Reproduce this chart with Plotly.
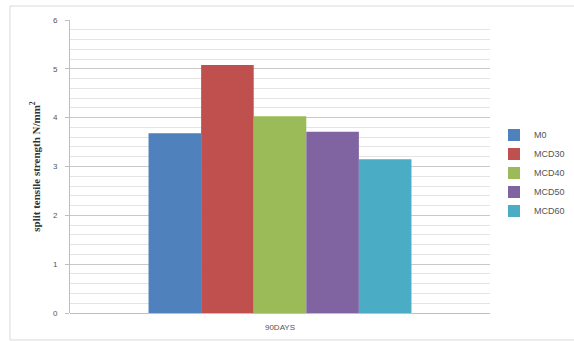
import plotly.graph_objects as go

categories = ["90DAYS"]
series_names = ["M0", "MCD30", "MCD40", "MCD50", "MCD60"]
series_values = [[3.68], [5.08], [4.03], [3.71], [3.15]]
colors = ["#4F81BD", "#C0504D", "#9BBB59", "#8064A2", "#4BACC6"]
y_ticks = [0, 1, 2, 3, 4, 5, 6]

fig = go.Figure()
for name, vals, c in zip(series_names, series_values, colors):
    fig.add_trace(go.Bar(x=categories, y=vals, name=name, marker=dict(color=c, line=dict(width=0))))

W, H = 574, 341
ml, mr, mt, mb = 70, 84, 20, 28
fig.update_layout(
    width=W, height=H,
    margin=dict(l=ml, r=mr, t=mt, b=mb, autoexpand=False),
    paper_bgcolor="white", plot_bgcolor="white",
    barmode="group", bargap=0.374, bargroupgap=0,
    showlegend=True,
    legend=dict(x=0.0, y=0.478, xanchor="left", yanchor="middle", xref="container",
                font=dict(family="Liberation Sans, Arial", size=9, color="#555555"),
                tracegroupgap=0, itemwidth=30, traceorder="normal"),
    xaxis=dict(showgrid=False, showline=False, ticks="", ticklabelstandoff=8,
               tickfont=dict(family="Liberation Sans, Arial", size=8, color="#555555")),
    yaxis=dict(range=[0, 6], tickvals=y_ticks, showgrid=True, gridcolor="#C8C8C8", gridwidth=1,
               showline=True, linecolor="#BFBFBF", linewidth=1,
               ticks="outside", ticklen=4, tickcolor="#BFBFBF", ticklabelstandoff=6,
               minor=dict(dtick=0.2, showgrid=True, gridcolor="#E4E4E4", gridwidth=1),
               zeroline=True, zerolinecolor="#BFBFBF", zerolinewidth=1,
               tickfont=dict(family="Liberation Sans, Arial", size=8, color="#555555"),
               title=dict(text="<b>split tensile strength N/mm<sup>2</sup></b>",
                          font=dict(family="Liberation Serif, Times New Roman", size=11, color="#333333"),
                          standoff=10)),
    shapes=[dict(type="rect", xref="paper", yref="paper",
                 x0=(10 - ml) / (W - ml - mr), x1=(600 - ml) / (W - ml - mr),
                 y0=(H - mb - 340) / (H - mt - mb), y1=(H - mb - 6) / (H - mt - mb),
                 line=dict(color="#D9D9D9", width=1), layer="below")],
)
fig.update_layout(legend=dict(xref="paper", x=0.0))
fig.layout.legend.x = (494 - ml) / (W - ml - mr)
fig.write_html("out.html")
